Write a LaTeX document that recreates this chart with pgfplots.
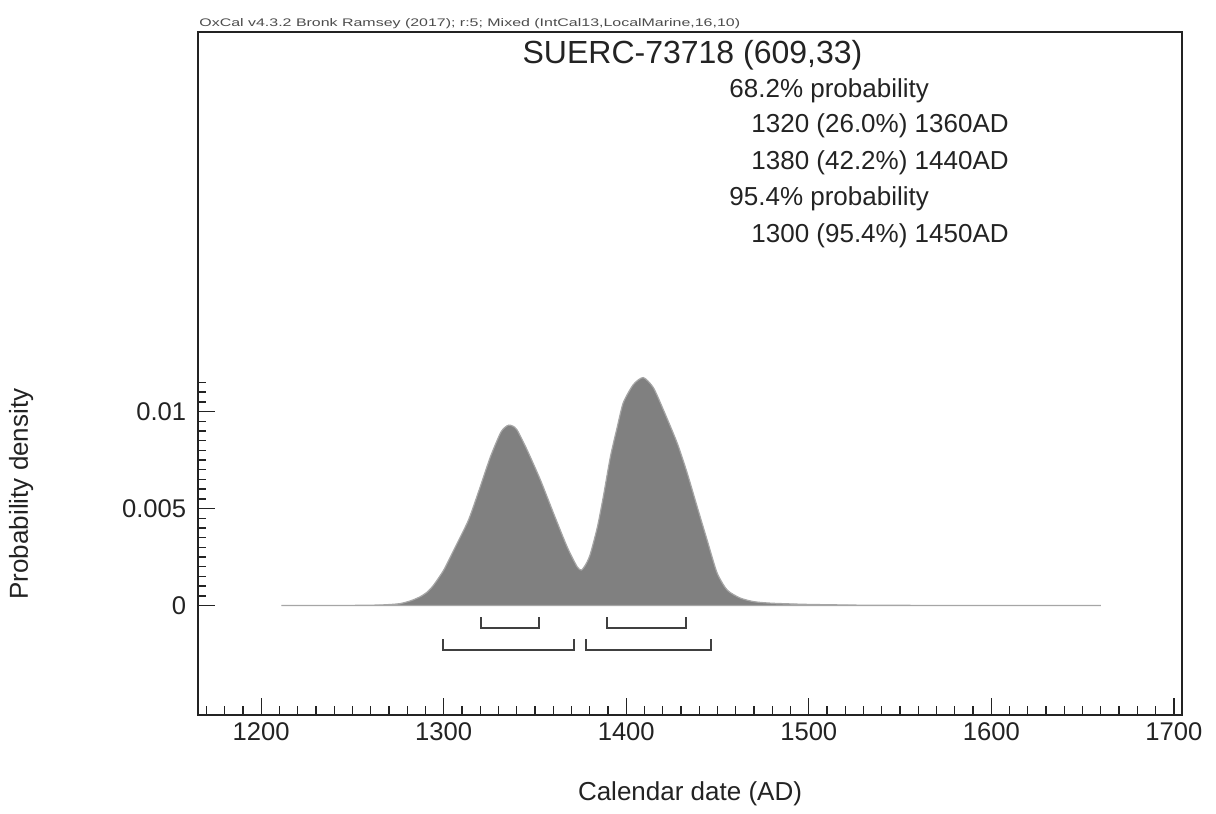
\documentclass[border=0pt]{standalone}
\usepackage{pgfplots}
\pgfplotsset{compat=1.18}
\usepackage{fontspec}
\setmainfont{Liberation Sans}
\definecolor{fillgray}{RGB}{128,128,128}
\definecolor{txt}{RGB}{35,35,35}
\begin{document}
\begin{tikzpicture}[x=0.5pt,y=0.5pt]
\useasboundingbox (0,0) rectangle (1216,814);
\begin{axis}[
  at={(98.75pt,49.5pt)}, anchor=south west,
  width=492.25pt, height=341.5pt, scale only axis,
  xmin=1165.1, xmax=1704.5, ymin=-0.00564, ymax=0.02956,
  axis line style={line width=1pt, txt},
  tick align=inside, xtick pos=lower, ytick pos=left,
  xtick={1200,1300,1400,1500,1600,1700},
  xticklabels={1200,1300,1400,1500,1600,1700},
  minor xtick={1170,1180,...,1700},
  ytick={0,0.005,0.01}, yticklabels={0,0.005,0.01},
  minor ytick={0.0005,0.001,0.0015,0.002,0.0025,0.003,0.0035,0.004,0.0045,0.0055,0.006,0.0065,0.007,0.0075,0.008,0.0085,0.009,0.0095,0.0105,0.011,0.0115},
  major tick length=8.5pt, minor tick length=4.25pt,
  every tick/.style={txt, line width=0.7pt},
  tick label style={font=\fontsize{12.8}{15}\selectfont, text=txt},
  xticklabel style={inner sep=0pt, yshift=-3.5pt},
  yticklabel style={inner sep=0pt, xshift=-5.5pt},
  scaled y ticks=false,
  clip=false,
]
\addplot[fill=fillgray, draw=fillgray!70, line width=0.6pt, smooth, tension=0.4] coordinates {
(1211,0) (1230,0.000005) (1250,0.00001) (1260,0.00002) (1268,0.00004)
(1276,0.0001) (1282,0.00025) (1287,0.00045) (1291,0.0007) (1294.5,0.00106)
(1300,0.00183) (1305.5,0.00286) (1312.8,0.00424) (1315.6,0.00492) (1320,0.00612)
(1325.6,0.00767) (1331,0.00888) (1333.5,0.00918) (1335.6,0.00930) (1337.8,0.00925)
(1340.2,0.00905) (1345.7,0.00802) (1353,0.00647) (1360.2,0.00475) (1367.6,0.00303)
(1373.1,0.00200) (1375.5,0.00183) (1378,0.00215) (1380.3,0.00265) (1384.2,0.00405)
(1387.4,0.00559) (1391.3,0.00766) (1395.1,0.00921) (1398.4,0.01046) (1403.9,0.01139)
(1409.3,0.01175) (1414.8,0.01124) (1420.3,0.01010) (1427.9,0.00838) (1433.4,0.00683)
(1438.9,0.00508) (1444.3,0.00338) (1449.8,0.00168) (1455.3,0.00080) (1462.4,0.00039)
(1470,0.0002) (1480,0.00012) (1500,0.00006) (1530,0.00002) (1560,0.00001)
(1600,0.000003) (1660,0)
} \closedcycle;
\addplot[black!75, line width=1pt] coordinates {(1320.6,-0.00059) (1320.6,-0.00116) (1352.4,-0.00116) (1352.4,-0.00059)};
\addplot[black!75, line width=1pt] coordinates {(1389.6,-0.00059) (1389.6,-0.00116) (1432.9,-0.00116) (1432.9,-0.00059)};
\addplot[black!75, line width=1pt] coordinates {(1299.8,-0.00173) (1299.8,-0.00229) (1371.6,-0.00229) (1371.6,-0.00173)};
\addplot[black!75, line width=1pt] coordinates {(1378.2,-0.00173) (1378.2,-0.00229) (1446.6,-0.00229) (1446.6,-0.00173)};
\end{axis}
\node[anchor=base west, inner sep=0, text=black!70] at (199,787) {\scalebox{1.45}[1]{\fontsize{5.5}{6}\selectfont OxCal v4.3.2 Bronk Ramsey (2017); r:5; Mixed (IntCal13,LocalMarine,16,10)}};
\node[anchor=base, inner sep=0, text=txt] at (692.5,750) {\fontsize{16}{19}\selectfont SUERC-73718 (609,33)};
\begin{scope}[every node/.style={anchor=base west, inner sep=0, text=txt, font=\fontsize{13}{15}\selectfont}]
\node at (729,716) {68.2\% probability};
\node at (751,681) {1320 (26.0\%) 1360AD};
\node at (751,644) {1380 (42.2\%) 1440AD};
\node at (729,608) {95.4\% probability};
\node at (751,571) {1300 (95.4\%) 1450AD};
\end{scope}
\node[anchor=base, inner sep=0, text=txt, font=\fontsize{13}{15}\selectfont] at (690,13) {Calendar date (AD)};
\node[anchor=base, inner sep=0, rotate=90, text=txt, font=\fontsize{13}{15}\selectfont] at (28,320) {Probability density};
\end{tikzpicture}
\end{document}
